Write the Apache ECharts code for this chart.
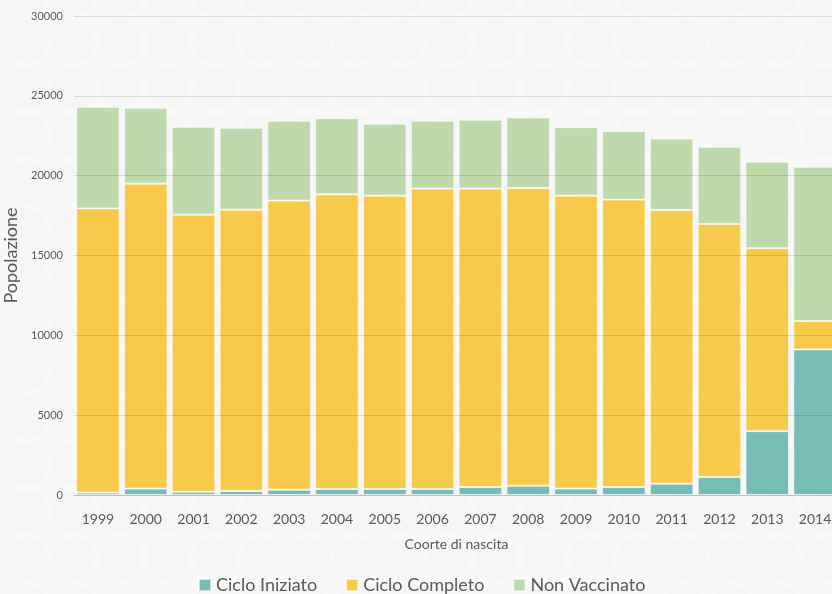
<!DOCTYPE html>
<html>
<head>
<meta charset="utf-8">
<script src="https://cdn.jsdelivr.net/npm/echarts@6/dist/echarts.min.js"></script>
<style>
  html, body { margin: 0; padding: 0; overflow: hidden; width: 832px; height: 594px; }
  #main {
    width: 839px; height: 594px;
    background-color: #f9f9f9;
    background-image: radial-gradient(circle, #f6f6f6 0, #f6f6f6 19px, rgba(246,246,246,0) 23px);
    background-size: 47px 47px;
    background-position: 3px 18px;
  }
</style>
</head>
<body>
<div id="main"></div>
<script>
// coorti di nascita
var anni = ['1999','2000','2001','2002','2003','2004','2005','2006','2007','2008','2009','2010','2011','2012','2013','2014'];

// valori
var cicloIniziato = [150, 400, 200, 250, 330, 380, 380, 380, 500, 580, 400, 500, 710, 1120, 4000, 9120];
var cicloCompleto = [17800, 19100, 17360, 17620, 18110, 18450, 18370, 18810, 18690, 18650, 18350, 18000, 17140, 15860, 11460, 1780];
var nonVaccinato = [6360, 4750, 5500, 5130, 5000, 4770, 4500, 4250, 4310, 4420, 4290, 4290, 4480, 4830, 5415, 9660];

// assi
var yMin = 0, yMax = 30000, yStep = 5000;

var chart = echarts.init(document.getElementById('main'));

var testo = '#595959';
var font = 'Lato';

var option = {
  backgroundColor: 'transparent',
  textStyle: { fontFamily: font },
  animation: false,
  grid: { left: 74, right: 0, top: 16, bottom: 99, containLabel: false, outerBoundsMode: 'none' },
  legend: {
    top: 571,
    left: 193,
    itemWidth: 12,
    itemHeight: 12,
    itemGap: 28,
    icon: 'rect',
    textStyle: { color: testo, fontSize: 18, fontFamily: font },
    data: ['Ciclo Iniziato', 'Ciclo Completo', 'Non Vaccinato']
  },
  xAxis: {
    type: 'category',
    data: anni,
    name: 'Coorte di nascita',
    nameLocation: 'middle',
    nameGap: 42,
    nameTextStyle: { color: testo, fontSize: 14, fontFamily: font },
    axisTick: { show: false },
    axisLine: { lineStyle: { color: '#d9d9d9' } },
    axisLabel: { color: testo, fontSize: 14, margin: 17, fontFamily: font }
  },
  yAxis: {
    type: 'value',
    z: 5,
    min: yMin,
    max: yMax,
    interval: yStep,
    name: 'Popolazione',
    nameLocation: 'middle',
    nameGap: 46,
    nameTextStyle: { color: testo, fontSize: 18, fontFamily: font },
    axisLine: { show: false },
    axisTick: { show: false },
    axisLabel: {
      color: testo, fontSize: 11, margin: 11, fontFamily: font,
      formatter: function (v) { return String(v); }
    },
    // le linee della griglia si vedono anche sopra le barre
    splitLine: { lineStyle: { color: 'rgba(0,0,0,0.12)', width: 1 } }
  },
  series: [
    {
      name: 'Ciclo Iniziato',
      type: 'bar',
      stack: 'tot',
      barCategoryGap: '9%',
      data: cicloIniziato,
      itemStyle: { color: '#78bcb8', borderColor: 'rgba(255,255,255,0.6)', borderWidth: 1 }
    },
    {
      name: 'Ciclo Completo',
      type: 'bar',
      stack: 'tot',
      data: cicloCompleto,
      itemStyle: { color: '#f8ca4c', borderColor: 'rgba(255,255,255,0.6)', borderWidth: 1 }
    },
    {
      name: 'Non Vaccinato',
      type: 'bar',
      stack: 'tot',
      data: nonVaccinato,
      itemStyle: { color: '#bedaac', borderColor: 'rgba(255,255,255,0.6)', borderWidth: 1 }
    }
  ]
};

chart.setOption(option);
</script>
</body>
</html>
